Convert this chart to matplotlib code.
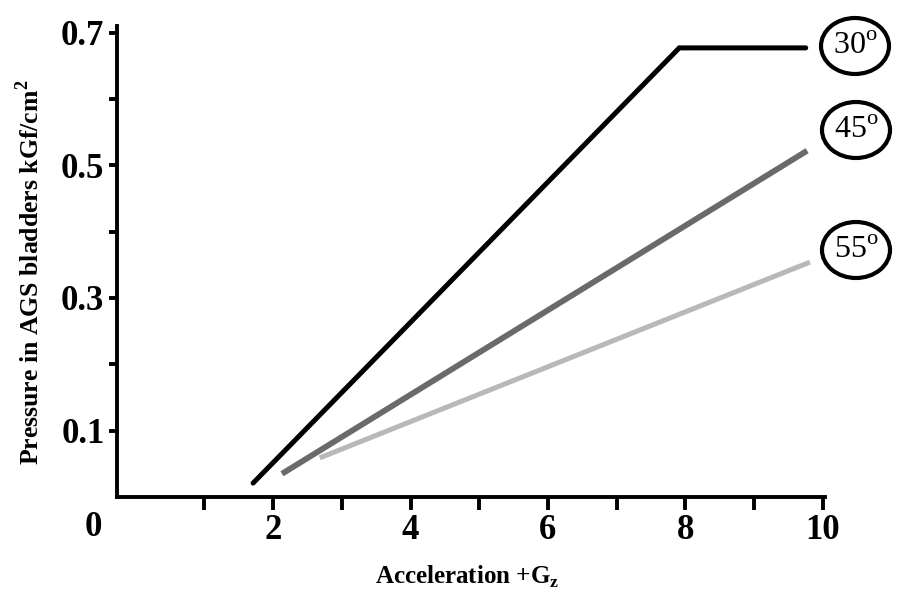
import matplotlib
matplotlib.use("Agg")
import matplotlib.pyplot as plt
from matplotlib.patches import Ellipse

# data
angles = ["30", "45", "55"]
x30 = [1.71, 7.91, 9.75]
y30 = [0.021, 0.677, 0.677]
x45 = [2.13, 9.77]
y45 = [0.035, 0.522]
x55 = [2.68, 9.81]
y55 = [0.059, 0.354]
xticks_major = [2, 4, 6, 8, 10]
xticks_minor = [1, 3, 5, 7, 9]
yticks_major = [0.1, 0.3, 0.5, 0.7]
yticks_minor = [0.2, 0.4, 0.6]

serif = "Liberation Serif"
plt.rcParams["mathtext.fontset"] = "custom"
plt.rcParams["mathtext.rm"] = serif
plt.rcParams["mathtext.bf"] = serif + ":bold"

W, H = 899, 596
fig = plt.figure(figsize=(W / 100, H / 100), dpi=100)

left, right, bottom, top = 117, 825, 497, 26
ax = fig.add_axes([left / W, 1 - bottom / H, (right - left) / W, (bottom - top) / H])
ax.set_xlim(-0.27, 10.03)
ax.set_ylim(0.0, 0.71)

ax.plot(x30, y30, color="black", lw=3.6, solid_capstyle="round", solid_joinstyle="miter")
ax.plot(x45, y45, color="#6a6a6a", lw=4.2, solid_capstyle="butt")
ax.plot(x55, y55, color="#b8b8b8", lw=3.6, solid_capstyle="butt")

for s in ["top", "right"]:
    ax.spines[s].set_visible(False)
for s in ["left", "bottom"]:
    ax.spines[s].set_linewidth(2.8)

ax.set_xticks(xticks_major)
ax.set_xticks(xticks_minor, minor=True)
ax.set_yticks(yticks_major)
ax.set_yticks(yticks_minor, minor=True)
ax.set_xticklabels([str(v) for v in xticks_major])
ax.set_yticklabels([f"{v:.1f}" for v in yticks_major])
ax.tick_params(axis="x", which="both", direction="out", length=9, width=2.8, pad=3)
ax.tick_params(axis="y", which="both", direction="out", length=6, width=2.8, pad=3)
for lab in ax.get_xticklabels() + ax.get_yticklabels():
    lab.set_fontfamily(serif)
    lab.set_fontweight("bold")
    lab.set_fontsize(25)

fig.text(93 / W, 1 - 527 / H, "0", ha="center", va="center",
         fontfamily=serif, fontweight="bold", fontsize=25)

fig.text(30 / W, 1 - 272 / H, "Pressure in AGS bladders kGf/cm$^{\\mathbf{2}}$",
         rotation=90, ha="center", va="center", fontfamily=serif,
         fontweight="bold", fontsize=18.5)
fig.text(467 / W, 1 - 577 / H, "Acceleration +G$_{\\mathbf{z}}$", ha="center", va="center",
         fontfamily=serif, fontweight="bold", fontsize=18)

centers = [(855, 46), (856, 130), (856, 250)]
for a, (cx, cy) in zip(angles, centers):
    e = Ellipse((cx / W, 1 - cy / H), 68 / W, 56 / H, transform=fig.transFigure,
                facecolor="white", edgecolor="black", lw=3.0)
    fig.add_artist(e)
    fig.text(cx / W, 1 - cy / H, a + "$^{\\mathrm{o}}$", ha="center", va="center",
             fontfamily=serif, fontsize=23)

fig.savefig("out.png", dpi=100)
